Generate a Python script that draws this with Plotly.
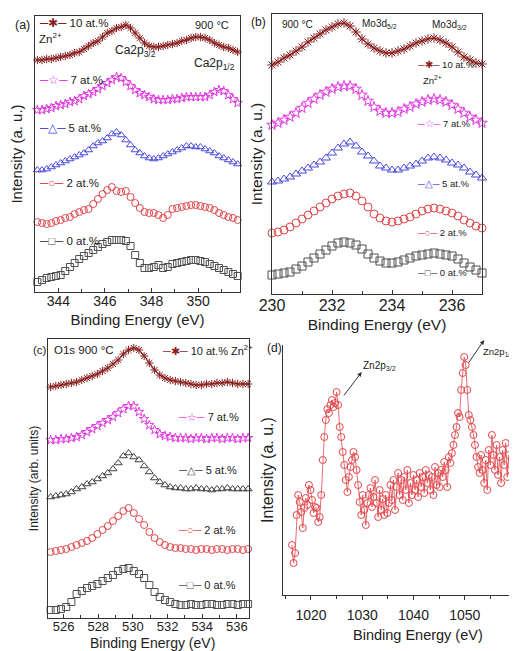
import plotly.graph_objects as go

# ---------------- data ----------------
LABELS = ["0 at.%", "2 at.%", "5 at.%", "7 at.%", "10 at.%"]

# (a) Ca2p region
E_A = [343.1, 343.3, 343.5, 343.7, 343.9, 344.1, 344.3, 344.5, 344.7, 344.9,
       345.1, 345.3, 345.5, 345.7, 345.9, 346.1, 346.3, 346.5, 346.7, 346.9,
       347.1, 347.3, 347.5, 347.7, 347.9, 348.1, 348.3, 348.5, 348.7, 348.9,
       349.1, 349.3, 349.5, 349.7, 349.9, 350.1, 350.3, 350.5, 350.7, 350.9,
       351.1, 351.3, 351.5, 351.7]
CA_0 = [10, 12, 14, 15, 16, 17, 21, 25, 29, 33, 36, 39, 42, 45, 48, 50, 52, 52, 52, 51,
        46, 37, 29, 24, 24, 25, 27, 24, 25, 28, 29, 30, 31, 32, 32, 31, 30, 28, 26, 24,
        22, 20, 18, 16]
CA_2 = [70, 69, 68, 69, 71, 72, 74, 75, 78, 80, 82, 83, 88, 93, 98, 102, 105, 101, 100, 101,
        95, 89, 84, 80, 79, 79, 77, 74, 77, 83, 84, 85, 86, 87, 87, 86, 85, 84, 82, 79,
        77, 75, 74, 72]
CA_5 = [122, 122, 123, 125, 127, 129, 131, 133, 135, 137, 139, 142, 146, 149, 151, 154, 158, 160, 157, 152,
        147, 142, 139, 136, 134, 133, 134, 136, 138, 140, 142, 144, 146, 146, 145, 145, 143, 141, 139, 136,
        134, 132, 130, 128]
CA_7 = [182, 182, 183, 184, 186, 187, 188, 190, 191, 193, 196, 198, 200, 203, 206, 209, 212, 215, 214, 210,
        206, 202, 199, 197, 195, 193, 192, 192, 192, 193, 193, 194, 195, 195, 195, 195, 195, 197, 200, 202,
        201, 197, 193, 189]
CA_10 = [232, 232, 233, 233, 234, 235, 236, 237, 239, 240, 243, 246, 249, 251, 255, 259, 261, 264, 265, 267,
         264, 259, 254, 249, 246, 245, 245, 246, 247, 248, 249, 251, 252, 254, 255, 255, 254, 252, 249, 247,
         245, 244, 242, 240]

# (b) Mo3d region
E_B = [230.0, 230.2, 230.4, 230.6, 230.8, 231.0, 231.2, 231.4, 231.6, 231.8,
       232.0, 232.2, 232.4, 232.6, 232.8, 233.0, 233.2, 233.4, 233.6, 233.8,
       234.0, 234.2, 234.4, 234.6, 234.8, 235.0, 235.2, 235.4, 235.6, 235.8,
       236.0, 236.2, 236.4, 236.6, 236.8, 237.0]
MO_0 = [19, 20, 21, 22, 25, 28, 32, 36, 40, 44, 48, 51, 52, 51, 49, 45, 40, 36, 33, 31,
        31, 32, 34, 36, 38, 39, 40, 41, 40, 39, 38, 35, 31, 27, 24, 21]
MO_2 = [61, 62, 64, 67, 71, 75, 79, 83, 87, 91, 95, 98, 100, 101, 98, 93, 87, 80, 76, 73,
        72, 73, 75, 77, 80, 83, 85, 86, 85, 83, 81, 78, 74, 71, 68, 66]
MO_5 = [112, 113, 115, 117, 120, 123, 126, 129, 132, 136, 141, 146, 150, 152, 148, 142, 138, 133, 128, 126,
        124, 124, 126, 128, 130, 133, 136, 137, 136, 134, 131, 129, 126, 122, 119, 116]
MO_7 = [169, 171, 174, 177, 181, 186, 191, 195, 199, 202, 205, 207, 208, 208, 205, 199, 193, 187, 183, 181,
        181, 182, 185, 187, 190, 192, 194, 195, 194, 192, 189, 185, 181, 177, 174, 171]
MO_10 = [229, 232, 236, 239, 243, 247, 252, 256, 260, 264, 267, 270, 271, 268, 262, 255, 250, 246, 243, 241,
         241, 243, 245, 248, 251, 253, 255, 256, 254, 251, 247, 242, 237, 234, 231, 230]

# (c) O1s region
E_C = [525.25, 525.55, 525.85, 526.15, 526.45, 526.75, 527.05, 527.35, 527.65, 527.95,
       528.25, 528.55, 528.85, 529.15, 529.45, 529.75, 530.05, 530.35, 530.65, 530.95,
       531.25, 531.55, 531.85, 532.15, 532.45, 532.75, 533.05, 533.35, 533.65, 533.95,
       534.25, 534.55, 534.85, 535.15, 535.45, 535.75, 536.05, 536.35, 536.65]
O_0 = [8, 8, 9, 11, 16, 24, 27, 30, 32, 34, 37, 40, 43, 47, 49, 50, 47, 44, 40, 33,
       26, 21, 18, 16, 14, 13, 13, 14, 13, 13, 14, 14, 13, 13, 14, 14, 13, 14, 14]
O_2 = [66, 67, 68, 69, 71, 73, 75, 77, 80, 84, 88, 92, 97, 102, 107, 110, 105, 99, 93, 86,
       80, 76, 73, 71, 70, 70, 69, 69, 68, 69, 69, 68, 69, 69, 68, 69, 69, 68, 69]
O_5 = [121, 122, 123, 124, 126, 129, 131, 134, 136, 139, 142, 145, 149, 155, 162, 165, 161, 158, 152, 146,
       140, 136, 133, 131, 130, 130, 129, 129, 130, 129, 129, 128, 129, 129, 130, 129, 129, 129, 129]
O_7 = [178, 178, 179, 179, 180, 181, 183, 186, 189, 192, 195, 198, 201, 205, 209, 212, 212, 206, 199, 193,
       188, 184, 182, 181, 180, 180, 180, 179, 180, 180, 179, 180, 180, 179, 180, 180, 179, 180, 180]
O_10 = [231, 232, 233, 234, 235, 236, 238, 240, 242, 244, 247, 250, 254, 258, 264, 268, 270, 268, 262, 255,
        248, 243, 240, 238, 237, 236, 235, 234, 233, 233, 234, 234, 235, 235, 236, 235, 234, 234, 234]

# (d) Zn2p region
E_D = [1016.3, 1016.6, 1016.9, 1017.2, 1017.5, 1017.8, 1018.1, 1018.4, 1018.7, 1019.0,
       1019.3, 1019.6, 1019.9, 1020.2, 1020.5, 1020.8, 1021.1, 1021.4, 1021.7, 1022.0,
       1022.3, 1022.6, 1022.9, 1023.2, 1023.5, 1023.8, 1024.1, 1024.4, 1024.7, 1025.0,
       1025.3, 1025.6, 1025.9, 1026.2, 1026.5, 1026.8, 1027.1, 1027.4, 1027.7, 1028.0,
       1028.3, 1028.6, 1028.9, 1029.2, 1029.5, 1029.8, 1030.1, 1030.4, 1030.7, 1031.0,
       1031.3, 1031.6, 1031.9, 1032.2, 1032.5, 1032.8, 1033.1, 1033.4, 1033.7, 1034.0,
       1034.3, 1034.6, 1034.9, 1035.2, 1035.5, 1035.8, 1036.1, 1036.4, 1036.7, 1037.0,
       1037.3, 1037.6, 1037.9, 1038.2, 1038.5, 1038.8, 1039.1, 1039.4, 1039.7, 1040.0,
       1040.3, 1040.6, 1040.9, 1041.2, 1041.5, 1041.8, 1042.1, 1042.4, 1042.7, 1043.0,
       1043.3, 1043.6, 1043.9, 1044.2, 1044.5, 1044.8, 1045.1, 1045.4, 1045.7, 1046.0,
       1046.3, 1046.6, 1046.9, 1047.2, 1047.5, 1047.8, 1048.1, 1048.4, 1048.7, 1049.0,
       1049.3, 1049.6, 1049.9, 1050.2, 1050.5, 1050.8, 1051.1, 1051.4, 1051.7, 1052.0,
       1052.3, 1052.6, 1052.9, 1053.2, 1053.5, 1053.8, 1054.1, 1054.4, 1054.7, 1055.0,
       1055.3, 1055.6, 1055.9, 1056.2, 1056.5, 1056.8, 1057.1, 1057.4, 1057.7, 1058.0,
       1058.3, 1058.6, 1058.9, 1059.2, 1059.5, 1059.8, 1060.1]
ZN = [50, 32, 42, 80, 100, 93, 83, 67, 87, 97,
      90, 110, 105, 95, 82, 88, 87, 73, 78, 100,
      135, 158, 175, 186, 182, 190, 195, 188, 192, 203,
      190, 168, 158, 143, 130, 115, 103, 118, 128, 135,
      143, 138, 125, 110, 93, 80, 100, 85, 70, 92,
      100, 107, 88, 98, 115, 92, 78, 105, 85, 96,
      80, 100, 82, 92, 110, 95, 115, 85, 108, 122,
      100, 115, 95, 118, 105, 125, 92, 112, 100, 120,
      105, 115, 98, 122, 108, 118, 102, 125, 112, 120,
      105, 118, 100, 128, 110, 122, 108, 125, 118, 133,
      125, 108, 138, 132, 142, 150, 160, 168, 182, 178,
      205, 222, 238, 230, 205, 180, 175, 168, 160, 150,
      138, 128, 122, 140, 125, 112, 135, 105, 145, 130,
      160, 140, 125, 150, 120, 138, 112, 145, 130, 152,
      118, 140, 125, 135, 115, 128, 120]

# ---------------- styling ----------------
FONT = "Liberation Sans, Arial, sans-serif"
NARROW = "Liberation Sans Narrow, Liberation Sans, Arial, sans-serif"
OFF = 8                      # page body margin of the html page
W, H = 517 - OFF, 651 - OFF  # figure size so that it fills the window
GRAY, RED, BLUE, MAG, BROWN = "#505050", "#e2474c", "#4a4adf", "#e23de2", "#8a1e1e"
COLS_AB = [GRAY, RED, BLUE, MAG, BROWN]
COLS_C = [GRAY, RED, "#404040", MAG, BROWN]
SYMS = ["square-open", "circle-open", "triangle-up-open", "star-open", "asterisk-open"]
GLYPH = ["□", "○", "△", "☆", "✱"]
AX = "#333333"


def fx(p):
    return (p - OFF) / W


def fy(p):
    return 1 - (p - OFF) / H


fig = go.Figure()


def add_panel(E, series, cols, xa, ya, msize):
    for vals, col, sym, lab in zip(series, cols, SYMS, LABELS):
        brown = sym == "asterisk-open"
        fig.add_trace(go.Scatter(
            x=E, y=vals, name=lab, xaxis=xa, yaxis=ya,
            mode="lines+markers" if brown else "markers",
            line=dict(color=col, width=1.2),
            marker=dict(symbol=sym, size=msize, color=col, line=dict(width=1, color=col)),
            showlegend=False, cliponaxis=False,
        ))


add_panel(E_A, [CA_0, CA_2, CA_5, CA_7, CA_10], COLS_AB, "x", "y", 7)
add_panel(E_B, [MO_0, MO_2, MO_5, MO_7, MO_10], COLS_AB, "x2", "y2", 8)
add_panel(E_C, [O_0, O_2, O_5, O_7, O_10], COLS_C, "x3", "y3", 7)
fig.add_trace(go.Scatter(
    x=E_D, y=ZN, xaxis="x4", yaxis="y4", mode="lines+markers", name="Zn2p",
    line=dict(color=RED, width=0.8),
    marker=dict(symbol="circle-open", size=7, color=RED, line=dict(width=1, color=RED)),
    showlegend=False, cliponaxis=True,
))


def box_x(dom, rng, dtick, tick0, size, title, tsize, standoff, lab_off=0, fam=FONT):
    return dict(domain=[fx(dom[0]), fx(dom[1])], range=rng, dtick=dtick, tick0=tick0,
                ticks="inside", ticklen=4, tickwidth=1, tickcolor=AX,
                minor=dict(dtick=dtick / 2, ticks="inside", ticklen=2.5, tickcolor=AX),
                showline=True, mirror=True, linecolor=AX, linewidth=1.3,
                showgrid=False, zeroline=False, automargin=False,
                ticklabelstandoff=lab_off,
                tickfont=dict(family=fam, size=size, color="#222"),
                title=dict(text=title, font=dict(family=fam, size=tsize, color="#222"), standoff=standoff))


def box_y(dom, rng, title, size, standoff):
    return dict(domain=[fy(dom[1]), fy(dom[0])], range=rng, showticklabels=False, ticks="",
                showline=True, mirror=True, linecolor=AX, linewidth=1.3,
                showgrid=False, zeroline=False, automargin=False,
                title=dict(text=title, font=dict(family=FONT, size=size, color="#222"), standoff=standoff))


xa = box_x((35, 240), [343, 351.8], 2, 344, 14, "Binding Energy (eV)", 15, 6, lab_off=-4)
xa["anchor"] = "y"
ya = box_y((16, 292), [0, 276], "Intensity (a. u.)", 15, 10)
ya["anchor"] = "x"

xb = box_x((272, 482), [230, 237], 2, 230, 16, "Binding Energy (eV)", 15.5, 5, lab_off=-3)
xb["anchor"] = "y2"
yb = box_y((14, 294), [0, 280], "Intensity (a. u.)", 15.5, 4)
yb["anchor"] = "x2"

xc = box_x((48, 249), [525.1, 536.7], 2, 526, 13, "", 14, 2, lab_off=-4)
xc["anchor"] = "y3"
yc = box_y((339, 618), [0, 279], "Intensity (arb. units)", 12, 5)
yc["anchor"] = "x3"

xd = dict(domain=[fx(283.3), 1.0], range=[1014.6, 1060.2], dtick=10, tick0=1020,
          ticks="outside", ticklen=4, tickcolor=AX,
          minor=dict(dtick=5, ticks="outside", ticklen=2.5, tickcolor=AX),
          showline=True, mirror=False, linecolor=AX, linewidth=1.3,
          showgrid=False, zeroline=False, anchor="y4", automargin=False,
          ticklabelstandoff=3,
          tickfont=dict(family=NARROW, size=14, color="#222"))
yd = dict(domain=[fy(595), fy(345)], range=[0, 250], showticklabels=False, ticks="",
          showline=True, mirror=False, linecolor=AX, linewidth=1.3,
          showgrid=False, zeroline=False, anchor="x4", automargin=False,
          title=dict(text="Intensity (a. u.)", font=dict(family=FONT, size=16, color="#222"), standoff=4))

anns = []


def note(x, y, text, size, color="#222", xanchor="left", family=FONT):
    anns.append(dict(x=fx(x), y=fy(y), xref="paper", yref="paper", text=text, showarrow=False,
                     xanchor=xanchor, yanchor="middle",
                     font=dict(size=size, color=color, family=family)))


def legend_item(x, y, i, cols, size, label=None):
    lab = label if label is not None else LABELS[i]
    txt = '<span style="color:%s">─%s─</span> %s' % (cols[i], GLYPH[i], lab)
    note(x, y, txt, size)


# panel (a)
note(13, 25, "(a)", 12.5)
note(193, 25, "900 °C", 11)
note(113, 51, "Ca2p<sub>3/2</sub>", 12)
note(192, 64, "Ca2p<sub>1/2</sub>", 12)
for i, yy in zip([4, 3, 2, 1, 0], [23, 80, 128, 183, 241]):
    legend_item(37, yy, i, COLS_AB, 11.5)
note(37, 38, "Zn<sup>2+</sup>", 11.5)

# panel (b)
note(249, 22, "(b)", 12)
note(280, 24, "900 °C", 10)
note(360, 24, "Mo3d<sub>5/2</sub>", 10)
note(430, 25, "Mo3d<sub>3/2</sub>", 10)
for i, yy in zip([4, 3, 2, 1, 0], [65, 123, 183, 232, 272]):
    legend_item(415, yy, i, COLS_AB, 9.5)
note(421, 80, "Zn<sup>2+</sup>", 9.5)

# panel (c)
note(31, 350, "(c)", 11.5)
note(52, 350, "O1s 900 °C", 11.5)
legend_item(160, 350, 4, COLS_C, 11, "10 at.% Zn<sup>2+</sup>")
for i, yy in zip([3, 2, 1, 0], [417, 470, 530, 585]):
    legend_item(176, yy, i, COLS_C, 11)
note(152, 643, "Binding Energy (eV)", 14, xanchor="center")

# panel (d)
note(265, 348, "(d)", 12)
note(361, 366, "Zn2p<sub>3/2</sub>", 10, family=NARROW)
note(516, 352, "Zn2p<sub>1/2</sub>", 9.5, xanchor="right", family=NARROW)
note(418, 635, "Binding Energy (eV)", 14.5, xanchor="center", family=NARROW)
for (x0, y0, x1, y1) in [(1026.2, 198, 1029.9, 223), (1050.6, 231, 1053.8, 255)]:
    anns.append(dict(x=x1, y=y1, ax=x0, ay=y0, xref="x4", yref="y4", axref="x4", ayref="y4",
                     text="", showarrow=True, arrowhead=2, arrowsize=0.9, arrowwidth=1,
                     arrowcolor="#333"))

fig.update_layout(
    width=W, height=H, margin=dict(l=0, r=0, t=0, b=0, autoexpand=False),
    paper_bgcolor="white", plot_bgcolor="white", showlegend=False,
    font=dict(family=FONT, color="#222"),
    xaxis=xa, yaxis=ya, xaxis2=xb, yaxis2=yb, xaxis3=xc, yaxis3=yc, xaxis4=xd, yaxis4=yd,
    annotations=anns,
)

fig.write_html("out.html")
